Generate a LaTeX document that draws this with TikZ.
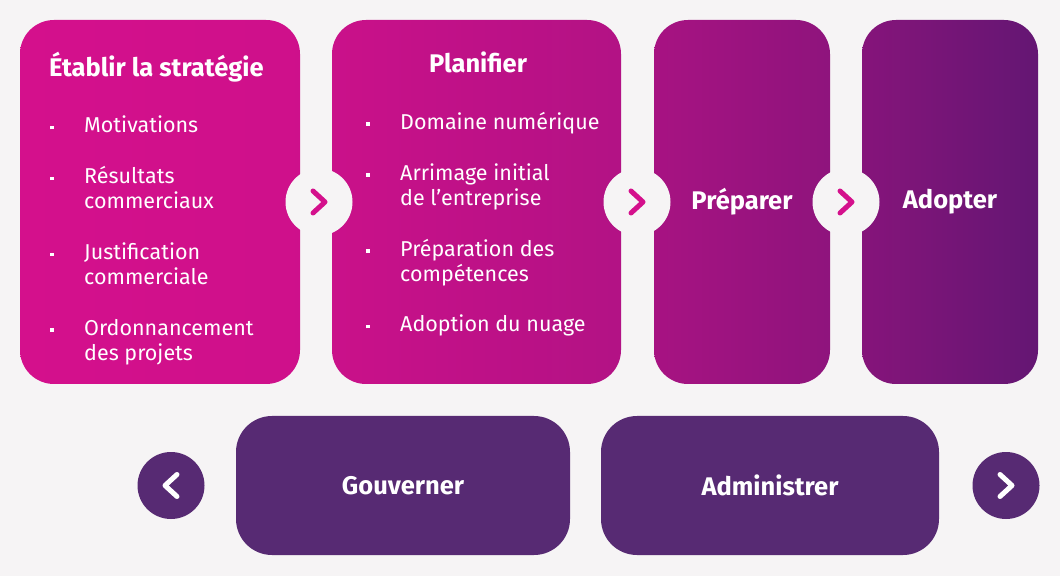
\documentclass[tikz,border=0pt]{standalone}
\usepackage{fontspec}
\setmainfont{Fira Sans}
\usepackage{tikz}
\usetikzlibrary{positioning}
\usepackage{xcolor}

\definecolor{fond}{RGB}{246,244,245}
\definecolor{rosevif}{RGB}{212,16,140}
\definecolor{prune}{RGB}{100,22,115}
\definecolor{aubergine}{RGB}{87,42,115}

\newcommand{\puce}{\makebox[34pt][l]{\rule[3.5pt]{3.5pt}{3.5pt}}}
\newcommand{\suite}{\hspace*{34pt}}

\begin{document}
\begin{tikzpicture}[
    x=1pt, y=1pt,
    etape/.style={rounded corners=34pt, minimum height=364pt, inner sep=0pt, text=white,
      font=\fontsize{25.5}{30}\selectfont\bfseries},
    titre/.style={text=white, inner sep=0pt, font=\fontsize{25.5}{30}\selectfont\bfseries},
    liste/.style={text=white, inner sep=0pt, align=left, font=\fontsize{21.5}{25.2}\selectfont},
    rond/.style={circle, fill=fond, minimum size=67pt, inner sep=0pt},
    rondbas/.style={circle, fill=aubergine, minimum size=67pt, inner sep=0pt},
    chevron/.style={line width=5pt, line cap=round, line join=round, rosevif},
    bas/.style={rounded corners=36pt, fill=aubergine, minimum height=139pt, inner sep=0pt,
      text=white, font=\fontsize{25.5}{30}\selectfont\bfseries}
  ]
  \fill[fond] (0,0) rectangle (1060,576);

  \node[etape, minimum width=280pt, left color=rosevif, right color=rosevif!95!prune] (strategie) at (160,374) {};
  \node[etape, minimum width=289pt, left color=rosevif!91!prune, right color=rosevif!70!prune] (planifier) at (476.5,374) {};
  \node[etape, minimum width=176pt, left color=rosevif!60!prune, right color=rosevif!38!prune] (preparer) at (742,374) {Préparer};
  \node[etape, minimum width=176pt, left color=rosevif!30!prune, right color=prune] (adopter) at (950,374) {Adopter};

  \node[titre, anchor=base west] (titre-strategie) at (49,499) {Établir la stratégie};
  \node[liste, anchor=north west] (liste-strategie) at (50,460) {
    \puce Motivations\\[25.5pt]
    \puce Résultats\\
    \suite commerciaux\\[25.5pt]
    \puce Justification\\
    \suite commerciale\\[25.5pt]
    \puce Ordonnancement\\
    \suite des projets
  };

  \node[titre, anchor=base] (titre-planifier) at (478,503) {Planifier};
  \node[liste, anchor=north west] (liste-planifier) at (366,464) {
    \puce Domaine numérique\\[25.5pt]
    \puce Arrimage initial\\
    \suite de l’entreprise\\[25.5pt]
    \puce Préparation des\\
    \suite compétences\\[25.5pt]
    \puce Adoption du nuage
  };

  \node[rond] (fleche1) at (319,374) {};
  \node[rond] (fleche2) at (637,374) {};
  \node[rond] (fleche3) at (846,374) {};
  \draw[chevron] ([shift={(-6,11)}]fleche1.center) -- ([shift={(6,0)}]fleche1.center) -- ([shift={(-6,-11)}]fleche1.center);
  \draw[chevron] ([shift={(-6,11)}]fleche2.center) -- ([shift={(6,0)}]fleche2.center) -- ([shift={(-6,-11)}]fleche2.center);
  \draw[chevron] ([shift={(-6,11)}]fleche3.center) -- ([shift={(6,0)}]fleche3.center) -- ([shift={(-6,-11)}]fleche3.center);

  \node[bas, minimum width=334pt] (gouverner) at (403,90.5) {Gouverner};
  \node[bas, minimum width=338pt] (administrer) at (770,90.5) {Administrer};

  \node[rondbas] (precedent) at (171,90.5) {};
  \node[rondbas] (suivant) at (1006,90.5) {};
  \draw[chevron, white] ([shift={(6,11)}]precedent.center) -- ([shift={(-6,0)}]precedent.center) -- ([shift={(6,-11)}]precedent.center);
  \draw[chevron, white] ([shift={(-6,11)}]suivant.center) -- ([shift={(6,0)}]suivant.center) -- ([shift={(-6,-11)}]suivant.center);
\end{tikzpicture}
\end{document}
